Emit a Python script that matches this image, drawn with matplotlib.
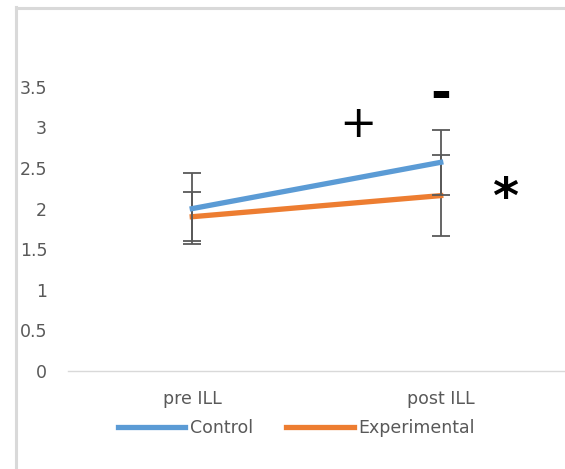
import matplotlib
matplotlib.use("Agg")
import matplotlib.pyplot as plt
from matplotlib.lines import Line2D

# datos
categorias = ["pre ILL", "post ILL"]
control = [2.0, 2.57]
control_err = [0.44, 0.40]
experimental = [1.9, 2.16]
experimental_err = [0.30, 0.50]
marcas = [("+", 0.667, 3.04, 'normal', 32), ("-", 1.0, 3.40, 'bold', 36), ("*", 1.26, 2.12, 'bold', 36)]

azul = "#5B9BD5"
naranja = "#ED7D31"
gris_texto = "#595959"

plt.rcParams['font.family'] = ['DejaVu Sans']
tam = 12.5

fig = plt.figure(figsize=(5.65, 4.69), dpi=100)
ax = fig.add_axes([68 / 565, 1 - 371 / 469, 1 - 68 / 565, (371 - 40) / 469])

x = list(range(len(categorias)))
ax.errorbar(x, control, yerr=control_err, color=azul, lw=3.8, ecolor=gris_texto,
            elinewidth=1.3, capsize=6.5, capthick=1.3, label="Control", zorder=3)
ax.errorbar(x, experimental, yerr=experimental_err, color=naranja, lw=3.8, ecolor=gris_texto,
            elinewidth=1.3, capsize=6.5, capthick=1.3, label="Experimental", zorder=2)

ax.set_xlim(-0.5, 1.5)
ax.set_ylim(0, (371 - 40) / 81.2)
ax.set_yticks([0, 0.5, 1, 1.5, 2, 2.5, 3, 3.5])
ax.set_yticklabels(["0", "0.5", "1", "1.5", "2", "2.5", "3", "3.5"])
ax.set_xticks(x)
ax.set_xticklabels(categorias)
ax.tick_params(axis='y', length=0, pad=15, labelsize=tam, labelcolor=gris_texto)
ax.tick_params(axis='x', length=0, pad=14, labelsize=tam, labelcolor=gris_texto)

for lado in ["top", "right", "left"]:
    ax.spines[lado].set_visible(False)
ax.spines["bottom"].set_color("#d9d9d9")
ax.spines["bottom"].set_linewidth(1.0)

for texto, xm, ym, peso, tm in marcas:
    ax.text(xm, ym, texto, fontsize=tm, ha='center', va='center', color='black',
            fontweight=peso)

# leyenda
manejadores = [Line2D([0], [0], color=azul, lw=3.8), Line2D([0], [0], color=naranja, lw=3.8)]
fig.legend(manejadores, ["Control", "Experimental"], loc='center',
           bbox_to_anchor=(296 / 565, 1 - 428 / 469), ncol=2, frameon=False,
           fontsize=tam, handlelength=3.9, handletextpad=0.25, columnspacing=1.9,
           labelcolor=gris_texto)

# marco del grafico
fig.add_artist(Line2D([15.5 / 565, 15.5 / 565], [0, 1 - 7 / 469], color="#d9d9d9", lw=2.2,
                      transform=fig.transFigure))
fig.add_artist(Line2D([15.5 / 565, 1], [1 - 8.5 / 469, 1 - 8.5 / 469], color="#d9d9d9", lw=2.2,
                      transform=fig.transFigure))

plt.savefig("out.png", dpi=100)
plt.close()
